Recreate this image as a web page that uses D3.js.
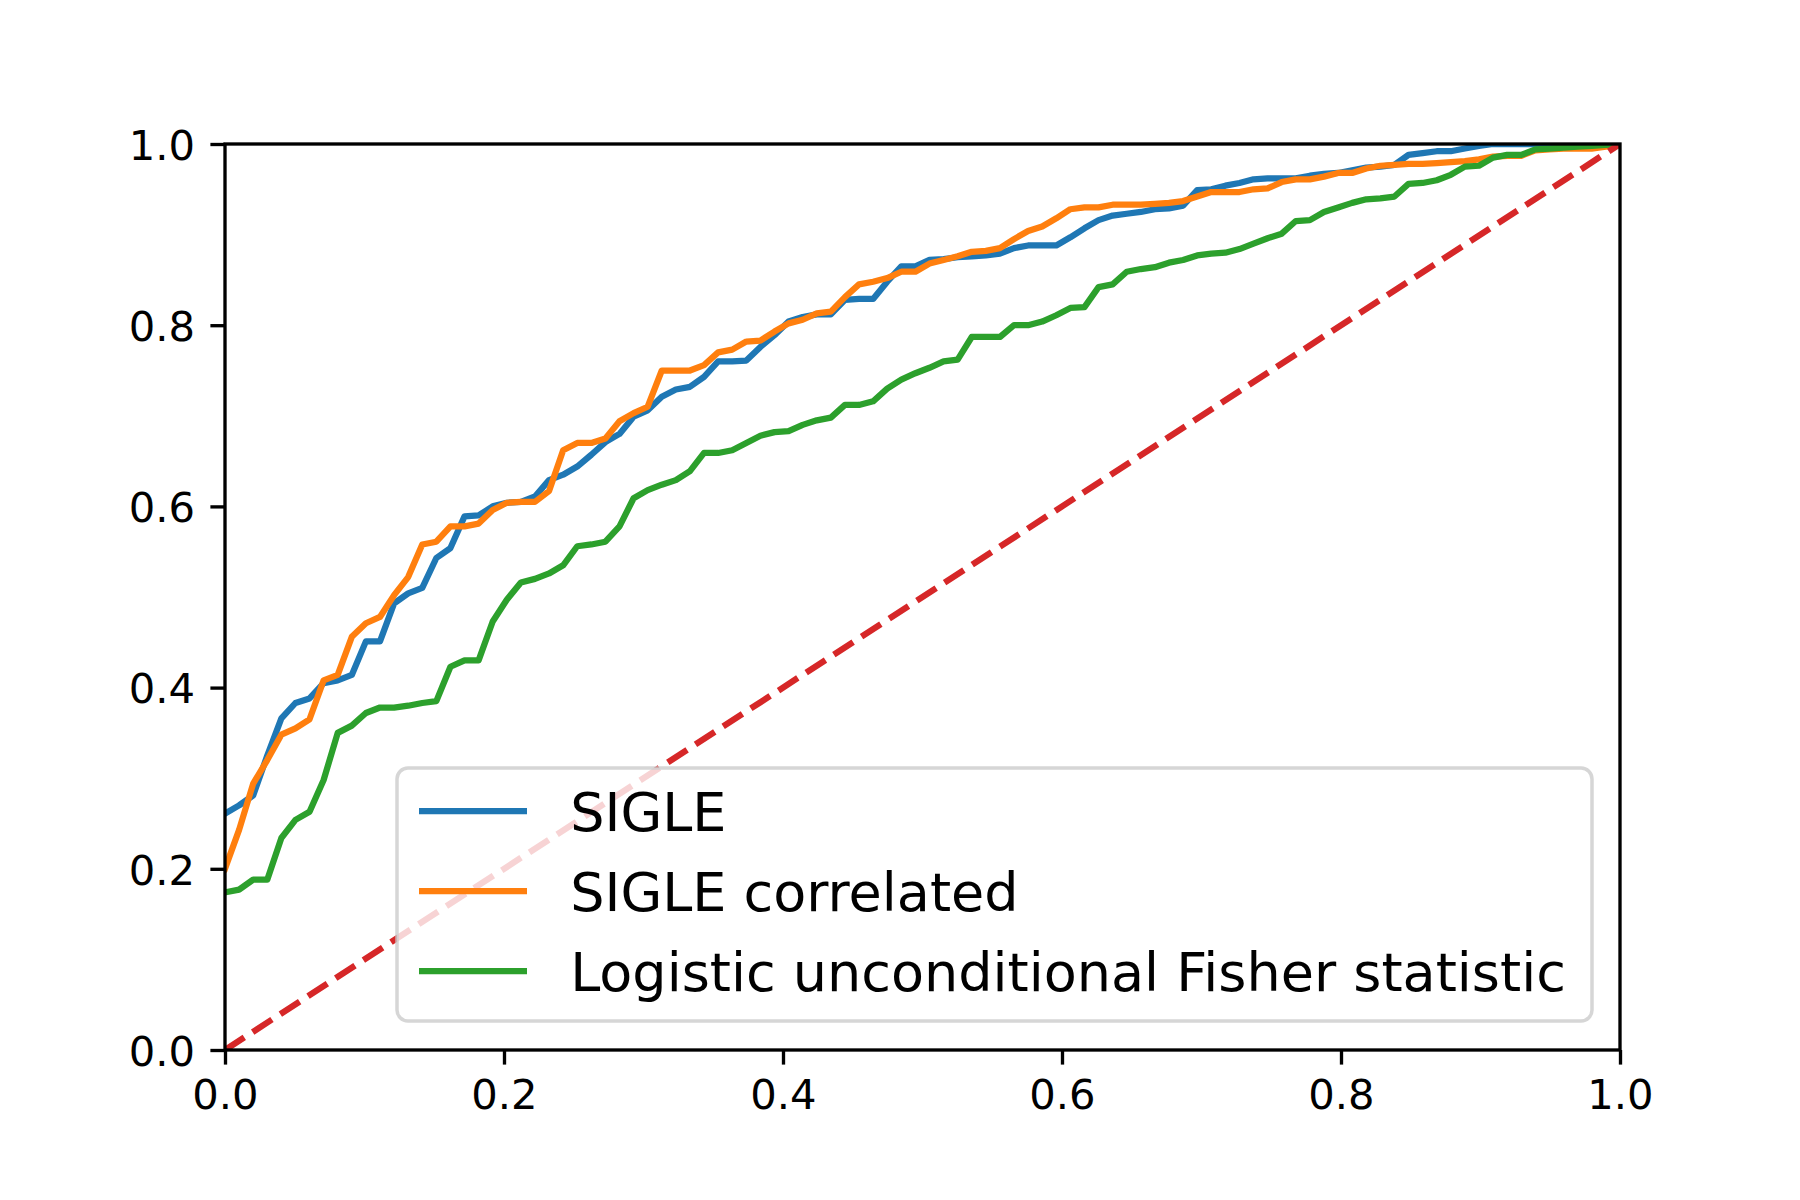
<!DOCTYPE html>
<html>
<head>
<meta charset="utf-8">
<script src="https://cdn.jsdelivr.net/npm/d3@7"></script>
<style>
  body { margin: 0; background: #fff; }
  text { font-family: "DejaVu Sans", sans-serif; fill: #000; }
</style>
</head>
<body>
<div id="chart"></div>
<script>
// False positive rate grid (100 points from 0 to 1)
var fpr = [
  0.0000, 0.0101, 0.0202, 0.0303, 0.0404, 0.0505, 0.0606, 0.0707, 0.0808, 0.0909,
  0.1010, 0.1111, 0.1212, 0.1313, 0.1414, 0.1515, 0.1616, 0.1717, 0.1818, 0.1919,
  0.2020, 0.2121, 0.2222, 0.2323, 0.2424, 0.2525, 0.2626, 0.2727, 0.2828, 0.2929,
  0.3030, 0.3131, 0.3232, 0.3333, 0.3434, 0.3535, 0.3636, 0.3737, 0.3838, 0.3939,
  0.4040, 0.4141, 0.4242, 0.4343, 0.4444, 0.4545, 0.4646, 0.4747, 0.4848, 0.4949,
  0.5050, 0.5151, 0.5252, 0.5353, 0.5454, 0.5555, 0.5656, 0.5757, 0.5858, 0.5959,
  0.6060, 0.6161, 0.6262, 0.6363, 0.6464, 0.6565, 0.6666, 0.6767, 0.6868, 0.6969,
  0.7070, 0.7171, 0.7272, 0.7373, 0.7474, 0.7575, 0.7676, 0.7777, 0.7878, 0.7979,
  0.8080, 0.8181, 0.8282, 0.8383, 0.8484, 0.8585, 0.8686, 0.8787, 0.8888, 0.8989,
  0.9090, 0.9191, 0.9292, 0.9393, 0.9494, 0.9595, 0.9696, 0.9797, 0.9898, 1.0000
];

// True positive rates
var tprSigle = [
  0.261, 0.270, 0.281, 0.325, 0.366, 0.383, 0.388, 0.405, 0.408, 0.414,
  0.451, 0.451, 0.493, 0.504, 0.510, 0.543, 0.554, 0.589, 0.590, 0.600,
  0.604, 0.605, 0.611, 0.629, 0.635, 0.644, 0.657, 0.671, 0.680, 0.699,
  0.706, 0.721, 0.729, 0.732, 0.743, 0.760, 0.760, 0.761, 0.776, 0.789,
  0.804, 0.809, 0.812, 0.812, 0.828, 0.829, 0.829, 0.848, 0.865, 0.865,
  0.872, 0.873, 0.875, 0.876, 0.877, 0.879, 0.885, 0.888, 0.888, 0.888,
  0.897, 0.907, 0.916, 0.921, 0.923, 0.925, 0.928, 0.929, 0.932, 0.949,
  0.950, 0.954, 0.957, 0.961, 0.962, 0.962, 0.962, 0.965, 0.967, 0.968,
  0.971, 0.974, 0.975, 0.977, 0.988, 0.990, 0.992, 0.992, 0.995, 0.998,
  1.000, 1.000, 1.000, 1.000, 1.000, 1.000, 1.000, 1.000, 1.000, 1.000
];
var tprCorrelated = [
  0.200, 0.243, 0.294, 0.320, 0.348, 0.355, 0.365, 0.408, 0.414, 0.456,
  0.471, 0.478, 0.502, 0.522, 0.558, 0.561, 0.578, 0.578, 0.581, 0.596,
  0.604, 0.605, 0.605, 0.617, 0.662, 0.670, 0.670, 0.675, 0.694, 0.703,
  0.710, 0.750, 0.750, 0.750, 0.756, 0.770, 0.773, 0.782, 0.783, 0.793,
  0.802, 0.806, 0.813, 0.815, 0.831, 0.845, 0.848, 0.852, 0.859, 0.859,
  0.868, 0.872, 0.876, 0.881, 0.882, 0.885, 0.895, 0.904, 0.909, 0.918,
  0.928, 0.930, 0.930, 0.933, 0.933, 0.933, 0.934, 0.935, 0.937, 0.942,
  0.947, 0.947, 0.947, 0.950, 0.951, 0.958, 0.961, 0.961, 0.964, 0.968,
  0.968, 0.973, 0.976, 0.977, 0.978, 0.978, 0.979, 0.980, 0.981, 0.983,
  0.986, 0.987, 0.987, 0.993, 0.994, 0.995, 0.995, 0.995, 0.997, 1.000
];
var tprFisher = [
  0.174, 0.177, 0.188, 0.188, 0.234, 0.254, 0.263, 0.298, 0.350, 0.358,
  0.372, 0.378, 0.378, 0.380, 0.383, 0.385, 0.423, 0.430, 0.430, 0.473,
  0.497, 0.516, 0.520, 0.526, 0.535, 0.556, 0.558, 0.561, 0.578, 0.609,
  0.618, 0.624, 0.629, 0.639, 0.659, 0.659, 0.662, 0.670, 0.678, 0.682,
  0.683, 0.690, 0.695, 0.698, 0.712, 0.712, 0.716, 0.730, 0.740, 0.747,
  0.753, 0.760, 0.762, 0.787, 0.787, 0.787, 0.800, 0.800, 0.804, 0.811,
  0.819, 0.820, 0.842, 0.845, 0.859, 0.862, 0.864, 0.869, 0.872, 0.877,
  0.879, 0.880, 0.884, 0.890, 0.896, 0.901, 0.915, 0.916, 0.925, 0.930,
  0.935, 0.939, 0.940, 0.942, 0.956, 0.957, 0.960, 0.966, 0.975, 0.976,
  0.985, 0.988, 0.988, 0.994, 0.995, 0.996, 0.997, 0.998, 0.999, 1.000
];

// Chance line
var diagX = [0, 1];
var diagY = [0, 1];

var seriesNames = ["SIGLE", "SIGLE correlated", "Logistic unconditional Fisher statistic"];
var seriesColors = ["#1f77b4", "#ff7f0e", "#2ca02c"];
var tickValues = [0, 0.2, 0.4, 0.6, 0.8, 1.0];

var W = 1800, H = 1200;
// plot box in pixels
var plotL = 225, plotR = 1620, plotT = 144, plotB = 1050;

var svg = d3.select("#chart")
            .append("svg")
            .attr("width", W)
            .attr("height", H);

svg.append("rect").attr("width", W).attr("height", H).attr("fill", "#fff");

var x = d3.scaleLinear().domain([0, 1]).range([plotL, plotR]);
var y = d3.scaleLinear().domain([0, 1]).range([plotB, plotT]);

// clip lines to the axes box
svg.append("clipPath").attr("id", "plotclip")
   .append("rect")
   .attr("x", plotL).attr("y", plotT)
   .attr("width", plotR - plotL).attr("height", plotB - plotT);

var line = d3.line()
             .x(function(d) { return x(d[0]); })
             .y(function(d) { return y(d[1]); });

var series = [tprSigle, tprCorrelated, tprFisher].map(function(vals) {
  return fpr.map(function(f, i) { return [f, vals[i]]; });
});

var plot = svg.append("g").attr("clip-path", "url(#plotclip)");

plot.selectAll(".roc")
    .data(series)
    .enter().append("path")
    .attr("class", "roc")
    .attr("d", line)
    .attr("fill", "none")
    .attr("stroke", function(d, i) { return seriesColors[i]; })
    .attr("stroke-width", 6.25)
    .attr("stroke-linejoin", "round")
    .attr("stroke-linecap", "square");

plot.append("path")
    .datum(diagX.map(function(d, i) { return [d, diagY[i]]; }))
    .attr("d", line)
    .attr("fill", "none")
    .attr("stroke", "#d62728")
    .attr("stroke-width", 6.25)
    .attr("stroke-dasharray", "23,10");

// Axes
var fmt = d3.format(".1f");

var xAxis = svg.append("g")
   .attr("transform", "translate(0," + plotB + ")")
   .call(d3.axisBottom(x).tickValues(tickValues).tickFormat(fmt).tickSizeInner(14.6).tickSizeOuter(0));
xAxis.select(".domain").remove();
xAxis.selectAll(".tick line").attr("stroke", "#000").attr("stroke-width", 3.33);
xAxis.selectAll(".tick text")
     .attr("y", 59).attr("dy", null)
     .attr("font-size", "41.7px")
     .attr("font-family", "DejaVu Sans")
     .attr("fill", "#000");

var yAxis = svg.append("g")
   .attr("transform", "translate(" + plotL + ",0)")
   .call(d3.axisLeft(y).tickValues(tickValues).tickFormat(fmt).tickSizeInner(14.6).tickSizeOuter(0));
yAxis.select(".domain").remove();
yAxis.selectAll(".tick line").attr("stroke", "#000").attr("stroke-width", 3.33);
yAxis.selectAll(".tick text")
     .attr("x", -30).attr("dy", null).attr("y", 15.2)
     .attr("font-size", "41.7px")
     .attr("font-family", "DejaVu Sans")
     .attr("fill", "#000");

// Spines
svg.append("rect")
   .attr("x", plotL).attr("y", plotT)
   .attr("width", plotR - plotL).attr("height", plotB - plotT)
   .attr("fill", "none")
   .attr("stroke", "#000")
   .attr("stroke-width", 3.33);

// Legend (lower right)
var legFont = 54;
var legW = 1195, legH = 253;
var legX = plotR - 28 - legW, legY = plotB - 29 - legH;
var legend = svg.append("g").attr("transform", "translate(" + legX + "," + legY + ")");

legend.append("rect")
      .attr("x", 0).attr("y", 0)
      .attr("width", legW).attr("height", legH)
      .attr("rx", 11).attr("ry", 11)
      .attr("fill", "#fff").attr("fill-opacity", 0.8)
      .attr("stroke", "#cccccc").attr("stroke-opacity", 0.8)
      .attr("stroke-width", 3.5);

var rows = legend.selectAll(".row")
      .data(seriesNames)
      .enter().append("g")
      .attr("class", "row")
      .attr("transform", function(d, i) { return "translate(0," + (43 + i * 80) + ")"; });

rows.append("line")
    .attr("x1", 22).attr("x2", 22 + 2 * legFont)
    .attr("y1", 0).attr("y2", 0)
    .attr("stroke", function(d, i) { return seriesColors[i]; })
    .attr("stroke-width", 6.25);

rows.append("text")
    .attr("x", 22 + 2.8 * legFont)
    .attr("y", 0.729 * legFont / 2)
    .attr("font-size", legFont + "px")
    .text(function(d) { return d; });
</script>
</body>
</html>
